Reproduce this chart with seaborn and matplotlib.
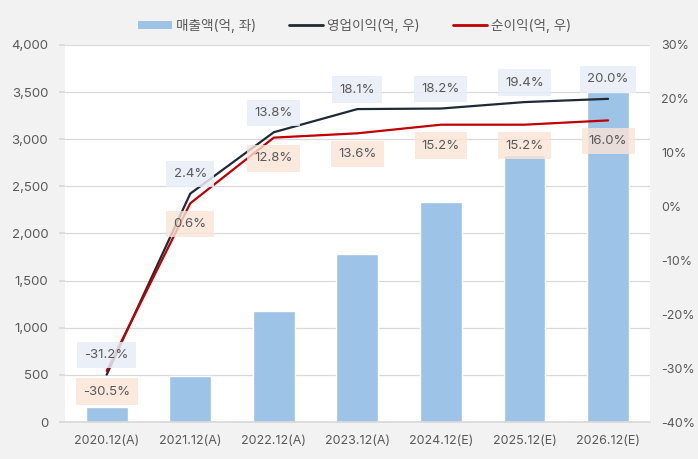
import matplotlib
matplotlib.use("Agg")
import matplotlib.pyplot as plt
import seaborn as sns
import pandas as pd
from matplotlib.ticker import FuncFormatter, MultipleLocator
from matplotlib.patches import Patch
from matplotlib.lines import Line2D

categories = ["2020.12(A)", "2021.12(A)", "2022.12(A)", "2023.12(A)", "2024.12(E)", "2025.12(E)", "2026.12(E)"]
revenue = [160, 490, 1180, 1780, 2330, 2830, 3500]
op_margin = [-31.2, 2.4, 13.8, 18.1, 18.2, 19.4, 20.0]
net_margin = [-30.5, 0.6, 12.8, 13.6, 15.2, 15.2, 16.0]

sns.set_theme(style="white")
plt.rcParams["font.family"] = ["Inter", "Noto Sans CJK KR", "DejaVu Sans"]

TXT = "#595959"
BAR = "#9dc3e6"
DARK = "#1f2a36"
RED = "#c00000"

df = pd.DataFrame({"cat": categories, "rev": revenue, "op": op_margin, "net": net_margin})

fig = plt.figure(figsize=(6.98, 4.59), dpi=100)
fig.patch.set_facecolor("#f2f2f2")
ax = fig.add_axes([0.093, 0.0806, 0.838, 0.8214])
ax.set_facecolor("white")

sns.barplot(data=df, x="cat", y="rev", color=BAR, width=0.5, ax=ax, saturation=1, zorder=2)
ax.set_ylim(0, 4000)
ax.set_xlim(-0.5, 6.5)
ax.yaxis.set_major_locator(MultipleLocator(500))
ax.yaxis.set_major_formatter(FuncFormatter(lambda v, p: f"{int(v):,}"))
ax.grid(axis="y", color="#d9d9d9", linewidth=0.9, zorder=0)
ax.set_axisbelow(True)
ax.set_xlabel("")
ax.set_ylabel("")
for s in ["top", "right", "left"]:
    ax.spines[s].set_visible(False)
ax.spines["bottom"].set_color("#d9d9d9")
ax.tick_params(axis="y", colors=TXT, labelsize=9.5, length=4, color="#d9d9d9", pad=8)
ax.tick_params(axis="x", colors=TXT, labelsize=9, length=0, pad=9)

ax2 = ax.twinx()
sns.lineplot(data=df, x="cat", y="op", color=DARK, linewidth=1.6, ax=ax2, sort=False, zorder=3)
sns.lineplot(data=df, x="cat", y="net", color=RED, linewidth=1.6, ax=ax2, sort=False, zorder=3)
ax2.set_ylim(-40, 30)
ax2.yaxis.set_major_locator(MultipleLocator(10))
ax2.yaxis.set_major_formatter(FuncFormatter(lambda v, p: f"{int(round(v))}%"))
ax2.set_ylabel("")
for s in ["top", "right", "left", "bottom"]:
    ax2.spines[s].set_visible(False)
ax2.tick_params(axis="y", colors=TXT, labelsize=9, length=0, pad=8)

for i, (o, n) in enumerate(zip(op_margin, net_margin)):
    ax2.annotate(f"{o:.1f}%", (i, o), xytext=(0, 14), textcoords="offset points",
                 ha="center", va="center", fontsize=9.5, color=TXT, zorder=5,
                 bbox=dict(boxstyle="square,pad=0.55", fc="#e8edf7", ec="none", alpha=0.85))
    ax2.annotate(f"{n:.1f}%", (i, n), xytext=(0, -15), textcoords="offset points",
                 ha="center", va="center", fontsize=9.5, color=TXT, zorder=5,
                 bbox=dict(boxstyle="square,pad=0.55", fc="#fce4d6", ec="none", alpha=0.8))

handles = [Patch(facecolor=BAR, edgecolor="none"),
           Line2D([0], [0], color=DARK, linewidth=2),
           Line2D([0], [0], color=RED, linewidth=2)]
labels = ["매출액(억, 좌)", "영업이익(억, 우)", "순이익(억, 우)"]
leg = fig.legend(handles, labels, loc="center", bbox_to_anchor=(0.508, 0.944), ncol=3,
                 frameon=False, fontsize=9.8, handlelength=2.5, handleheight=0.55,
                 columnspacing=2.4, handletextpad=0.3)
for t in leg.get_texts():
    t.set_color(TXT)

fig.savefig("out.png", dpi=100, facecolor=fig.get_facecolor())
